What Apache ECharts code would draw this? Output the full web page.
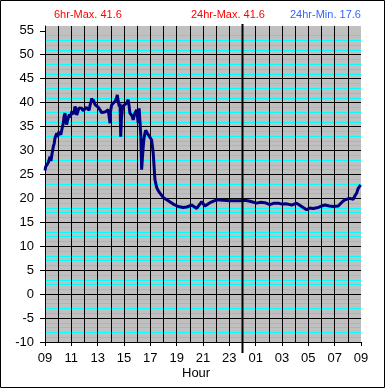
<!DOCTYPE html>
<html>
<head>
<meta charset="utf-8">
<script src="https://cdn.jsdelivr.net/npm/echarts@6/dist/echarts.min.js"></script>
<style>
html,body{margin:0;padding:0;background:#fff;}
#c{width:385px;height:388px;}
</style>
</head>
<body>
<div id="c"></div>
<script>
// hours since 09:00
const hours = [0.00,0.05,0.13,0.25,0.38,0.45,0.55,0.63,0.70,0.76,0.89,0.95,1.05,1.14,1.20,1.27,1.33,1.39,1.45,1.52,1.58,1.64,1.70,1.77,1.85,1.92,2.03,2.10,2.18,2.28,2.35,2.41,2.50,2.58,2.66,2.79,2.90,3.04,3.15,3.29,3.35,3.42,3.50,3.55,3.62,3.67,3.80,3.93,4.05,4.18,4.30,4.45,4.60,4.68,4.80,4.90,4.94,4.98,5.06,5.20,5.32,5.44,5.49,5.57,5.64,5.70,5.75,5.80,5.90,6.05,6.20,6.32,6.40,6.45,6.55,6.62,6.70,6.80,6.96,7.08,7.15,7.21,7.28,7.34,7.40,7.46,7.52,7.59,7.65,7.71,7.84,7.97,8.10,8.22,8.30,8.35,8.48,8.60,8.73,8.98,9.36,9.74,10.12,10.5,10.76,11.14,11.52,11.9,12.15,12.53,13.04,13.5,14.05,14.81,15.2,15.57,16.07,16.4,16.7,17.08,17.4,17.71,18.0,18.35,18.73,19.11,19.49,19.87,20.1,20.37,20.75,21.0,21.26,21.6,21.89,22.27,22.55,22.78,23.16,23.41,23.55,23.67,23.79,23.97];
const temps = [25.8,26.6,26.3,27.5,28.7,27.8,29.6,30.8,31.5,32.6,33.6,32.8,33.9,34.3,33.3,33.6,35.0,35.7,37.1,37.8,36.4,35.4,36.2,36.4,37.5,36.9,38.1,38.5,37.6,39.2,38.6,37.4,38.2,38.9,39.2,38.8,38.3,38.5,39.0,39.2,38.4,39.4,40.2,40.9,40.0,40.6,39.6,39.9,39.0,38.5,37.9,38.3,38.1,38.0,38.5,38.4,35.7,38.2,39.5,39.9,40.3,41.0,41.6,40.2,39.2,39.8,32.9,36.5,39.2,39.5,39.9,40.6,39.0,37.8,38.2,37.2,36.4,37.6,38.5,35.7,38.8,39.2,33.0,26.0,28.5,30.8,32.5,33.6,34.2,34.0,33.3,32.9,32.2,29.4,26.0,23.9,22.3,21.6,21.1,20.2,19.5,18.8,18.3,18.1,18.2,18.6,17.9,19.3,18.4,19.1,19.7,19.6,19.5,19.5,19.6,19.4,19.0,19.2,19.1,18.7,19.0,19.0,18.8,18.85,18.6,19.0,18.3,17.6,18.0,17.9,18.1,18.4,18.6,18.4,18.3,18.4,19.2,19.7,20.0,19.8,20.6,21.1,22.1,22.8];
const yTicks = [-10,-5,0,5,10,15,20,25,30,35,40,45,50,55];
const startHour = 9;
const midnightOffset = 15;
const titles = ['6hr-Max. 41.6','24hr-Max. 41.6','24hr-Min. 17.6'];
const xName = 'Hour';

const FONT = '"Liberation Sans", Arial, sans-serif';
const chart = echarts.init(document.getElementById('c'), null, {renderer:'canvas'});
const data = hours.map((h,i)=>[h,temps[i]]);
const pad = n => (n<10?'0':'')+n;
const tStyle = c => ({color:c, fontSize:11, fontWeight:'normal', fontFamily:FONT});

chart.setOption({
  animation:false,
  backgroundColor:'#fff',
  title:[
    {text:titles[0], left:54, top:9, padding:0, textStyle:tStyle('#ff0000')},
    {text:titles[1], left:191, top:9, padding:0, textStyle:tStyle('#ff0000')},
    {text:titles[2], left:290, top:9, padding:0, textStyle:tStyle('#3366ff')}
  ],
  grid:{left:45, top:26, right:24, bottom:46, show:true, backgroundColor:'#c0c0c0', borderWidth:0},
  xAxis:{
    type:'value', min:0, max:24, interval:2,
    axisLine:{show:true, onZero:false, lineStyle:{color:'#000', width:1}},
    axisTick:{show:true, length:4, lineStyle:{color:'#000'}},
    axisLabel:{color:'#000', fontSize:13, fontFamily:FONT, margin:10,
      formatter:v=>pad((startHour+v)%24)},
    splitLine:{show:true, showMaxLine:false, lineStyle:{color:'#000', width:1}},
    minorTick:{show:false, splitNumber:2},
    minorSplitLine:{show:true, lineStyle:{color:'#000', width:1}}
  },
  yAxis:[
    {
      type:'value', min:-10, max:56, interval:5,
      axisLine:{show:true, onZero:false, lineStyle:{color:'#000'}},
      axisTick:{show:true, length:5, customValues:yTicks, lineStyle:{color:'#000'}},
      axisLabel:{color:'#000', fontSize:13, fontFamily:FONT, margin:11, customValues:yTicks},
      splitLine:{show:true, showMaxLine:false, lineStyle:{color:'#000', width:1}}
    },
    {
      type:'value', min:-10, max:56, interval:1, position:'left',
      axisLine:{show:false}, axisTick:{show:false}, axisLabel:{show:false},
      splitLine:{show:true, showMaxLine:false, lineStyle:{color:['rgba(0,0,0,0)','#00ffff','#00ffff','#00ffff','#00ffff'], width:1}}
    }
  ],
  series:[{
    type:'line', data:data, yAxisIndex:0, symbol:'none',
    lineStyle:{color:'#000080', width:3}, z:5
  }]
});

const xm = chart.convertToPixel({xAxisIndex:0}, midnightOffset);
const yb = chart.convertToPixel({yAxisIndex:0}, -10);
const xc = (chart.convertToPixel({xAxisIndex:0}, 0) + chart.convertToPixel({xAxisIndex:0}, 24))/2;
chart.setOption({
  graphic:[
    {type:'line', z:10, shape:{x1:xm, y1:24, x2:xm, y2:yb+11}, style:{stroke:'#000', lineWidth:2}},
    {type:'text', z:10, left:xc-21, top:yb+25, style:{text:xName, fill:'#000', font:'13px '+FONT}},
    {type:'rect', z:10, shape:{x:0.5, y:0.5, width:384, height:387}, style:{fill:'none', stroke:'#000', lineWidth:1}}
  ]
});
</script>
</body>
</html>
